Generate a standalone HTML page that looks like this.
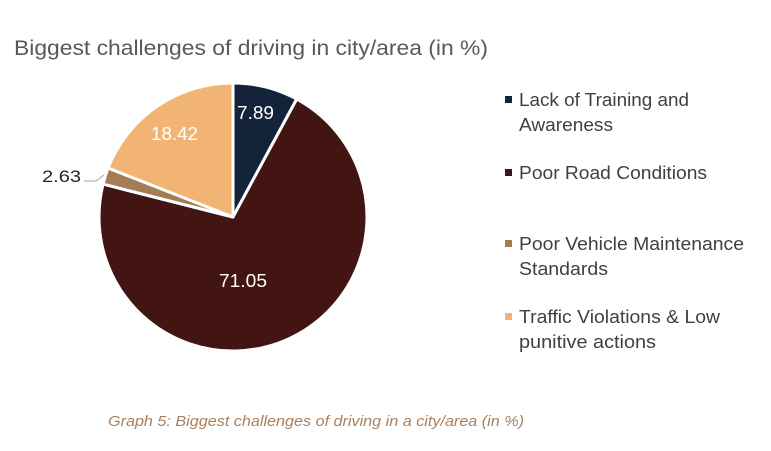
<!DOCTYPE html>
<html><head><meta charset="utf-8"><style>
body{margin:0;width:771px;height:446px;background:#fff;overflow:hidden;font-family:"Liberation Sans",sans-serif}
</style></head><body>
<svg width="771" height="446" xmlns="http://www.w3.org/2000/svg" font-family="Liberation Sans, sans-serif">
<text x="14" y="55" font-size="21" fill="#595959" textLength="474" lengthAdjust="spacingAndGlyphs">Biggest challenges of driving in city/area (in %)</text>
<g stroke="#fff" stroke-width="3" stroke-linejoin="round">
<path d="M233,217 L233,83 A134,134 0 0 1 296.7,99.1 Z" fill="#13233a"/>
<path d="M233,217 L296.7,99.1 A134,134 0 1 1 103.1,184.1 Z" fill="#431512"/>
<path d="M233,217 L103.1,184.1 A134,134 0 0 1 108.0,168.0 Z" fill="#a57d55"/>
<path d="M233,217 L108.0,168.0 A134,134 0 0 1 233,83 Z" fill="#f2b472"/>
</g>
<polyline points="84,181 96,181 104,175" fill="none" stroke="#a6a6a6" stroke-width="1"/>
<text x="42" y="182" font-size="17" fill="#262626" textLength="39" lengthAdjust="spacingAndGlyphs">2.63</text>
<text x="237" y="119" font-size="18" fill="#fff" textLength="37" lengthAdjust="spacingAndGlyphs">7.89</text>
<text x="151" y="140" font-size="18" fill="#fff" textLength="47" lengthAdjust="spacingAndGlyphs">18.42</text>
<text x="219" y="287" font-size="18" fill="#fff" textLength="48" lengthAdjust="spacingAndGlyphs">71.05</text>
<g font-size="18" fill="#404040">
<rect x="505" y="96" width="7" height="7" fill="#13233a"/>
<text x="519" y="106" textLength="170" lengthAdjust="spacingAndGlyphs">Lack of Training and</text><text x="519" y="131" textLength="94" lengthAdjust="spacingAndGlyphs">Awareness</text>
<rect x="505" y="169" width="7" height="7" fill="#431512"/>
<text x="519" y="179" textLength="188" lengthAdjust="spacingAndGlyphs">Poor Road Conditions</text>
<rect x="505" y="240" width="7" height="7" fill="#a57d55"/>
<text x="519" y="250" textLength="225" lengthAdjust="spacingAndGlyphs">Poor Vehicle Maintenance</text><text x="519" y="275" textLength="89" lengthAdjust="spacingAndGlyphs">Standards</text>
<rect x="505" y="313" width="7" height="7" fill="#f2b472"/>
<text x="519" y="323" textLength="201" lengthAdjust="spacingAndGlyphs">Traffic Violations &amp; Low</text><text x="519" y="348" textLength="137" lengthAdjust="spacingAndGlyphs">punitive actions</text>
</g>
<text x="108" y="426" font-size="15" font-style="italic" fill="#a8805e" textLength="416" lengthAdjust="spacingAndGlyphs">Graph 5: Biggest challenges of driving in a city/area (in %)</text>
</svg>
</body></html>
